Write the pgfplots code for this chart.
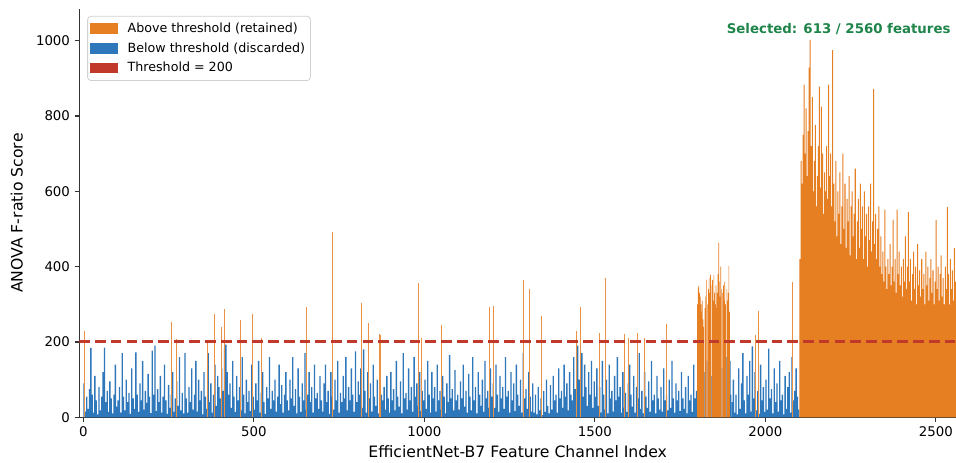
\documentclass[border=0pt]{standalone}
\usepackage{fontspec}
\setmainfont{DejaVu Sans}
\usepackage{pgfplots}
\usepackage{pgfplotstable}
\pgfplotsset{compat=1.18}
\usetikzlibrary{calc}
\definecolor{orangeC}{HTML}{E67E22}
\definecolor{blueC}{HTML}{2E77BB}
\definecolor{redC}{HTML}{C0392B}
\definecolor{greenC}{HTML}{1E8449}
\definecolor{spine}{HTML}{333333}
\pgfplotstableread[row sep=\\, header=false]{
300\\345\\350\\330\\320\\300\\280\\310\\260\\240\\120\\290\\320\\365\\150\\300\\340\\370\\330\\378\\
350\\110\\365\\310\\378\\330\\300\\350\\290\\330\\380\\464\\360\\320\\400\\340\\130\\330\\350\\310\\
360\\300\\160\\340\\310\\330\\402\\280\\150\\60\\
}\segB
\begin{document}
\begin{tikzpicture}
\begin{axis}[
  scale only axis, width=657.5pt, height=306.2pt,
  xmin=-11.7, xmax=2559, ymin=0, ymax=1084,
  axis x line*=bottom, axis y line*=left,
  axis line style={spine, line width=0.9pt, -},
  tick style={spine, line width=0.9pt},
  tick align=outside, major tick length=3.5pt,
  xtick={0,500,...,2500}, ytick={0,200,...,1000},
  minor tick num=0,
  tick label style={font=\fontsize{10}{12}\selectfont, text=black},
  /pgf/number format/assume math mode=true,
  /pgf/number format/1000 sep={},
  xlabel={EfficientNet-B7 Feature Channel Index},
  ylabel={ANOVA F-ratio Score},
  label style={font=\fontsize{11.75}{14}\selectfont},
  ylabel style={xshift=0pt, yshift=3pt},
  legend cell align=left,
  legend image code/.code={\fill[sharp corners, #1] (0pt,-4pt) rectangle (21pt,4pt);},
  legend style={at={(0.009,0.983)}, anchor=north west, draw=black!18, line width=0.6pt,
    rounded corners=2.5pt, fill=white, font=\fontsize{9.5}{11.4}\selectfont,
    inner xsep=2pt, inner ysep=3pt, row sep=2pt,
    /tikz/every odd column/.append style={column sep=5pt}},
]
\addlegendimage{fill=orangeC, draw=none}
\addlegendentry{Above threshold (retained)}
\addlegendimage{fill=blueC, draw=none}
\addlegendentry{Below threshold (discarded)}
\addlegendimage{fill=redC, draw=none}
\addlegendentry{Threshold = 200}

% Segment A: channels 0-1799, one value per 4 channels (below threshold)
\addplot[forget plot, ybar, bar width=4, bar shift=0pt, fill=blueC, draw=none]
 table[row sep=\\, header=false, x expr=\coordindex*4+2, y index=0] {
90\\15\\55\\22\\75\\184\\60\\12\\110\\45\\8\\80\\18\\55\\120\\185\\40\\70\\14\\95\\50\\10\\60\\140\\28\\
45\\80\\12\\170\\55\\18\\100\\40\\65\\9\\130\\50\\22\\172\\60\\14\\90\\45\\150\\20\\70\\38\\115\\55\\11\\
177\\60\\190\\16\\75\\40\\110\\12\\55\\140\\45\\9\\85\\25\\60\\120\\14\\50\\95\\30\\160\\18\\65\\10\\170\\
50\\12\\80\\40\\130\\20\\60\\150\\15\\100\\45\\70\\8\\120\\55\\22\\170\\40\\90\\12\\60\\140\\30\\110\\80\\
50\\130\\70\\185\\193\\120\\60\\90\\25\\150\\55\\14\\110\\45\\80\\18\\160\\60\\10\\100\\40\\70\\16\\140\\55\\
20\\90\\45\\150\\12\\65\\120\\40\\9\\80\\50\\160\\22\\70\\45\\100\\15\\55\\140\\35\\85\\12\\60\\120\\45\\
18\\100\\50\\160\\30\\75\\10\\130\\55\\14\\90\\45\\170\\20\\60\\120\\40\\80\\12\\140\\50\\65\\22\\110\\45\\
15\\90\\140\\40\\70\\9\\120\\55\\20\\100\\45\\150\\12\\65\\40\\110\\50\\160\\18\\80\\45\\130\\60\\14\\175\\
40\\95\\60\\130\\25\\180\\70\\12\\120\\50\\90\\15\\140\\55\\30\\100\\10\\160\\60\\45\\80\\20\\110\\50\\12\\
120\\45\\75\\18\\150\\55\\28\\95\\10\\170\\50\\65\\20\\130\\45\\80\\14\\160\\55\\90\\30\\120\\16\\70\\45\\
100\\22\\150\\60\\12\\120\\50\\80\\15\\140\\45\\70\\20\\110\\55\\10\\90\\40\\165\\50\\75\\18\\125\\45\\60\\
20\\95\\50\\140\\28\\70\\12\\115\\55\\18\\160\\45\\80\\10\\120\\60\\30\\100\\14\\150\\50\\70\\25\\130\\55\\
90\\25\\140\\60\\14\\110\\50\\80\\22\\160\\55\\70\\12\\120\\45\\90\\16\\140\\60\\30\\100\\12\\170\\50\\75\\
22\\120\\55\\15\\90\\12\\60\\8\\80\\18\\50\\6\\70\\14\\100\\30\\10\\85\\20\\110\\45\\60\\12\\130\\50\\
70\\25\\140\\55\\90\\18\\120\\60\\45\\160\\75\\50\\190\\100\\65\\170\\55\\140\\80\\30\\120\\60\\150\\25\\95\\
55\\130\\30\\80\\12\\150\\60\\20\\100\\10\\140\\50\\70\\15\\110\\45\\160\\55\\80\\12\\120\\25\\65\\14\\90\\
140\\60\\28\\110\\12\\80\\50\\170\\22\\70\\10\\120\\55\\25\\95\\14\\150\\45\\60\\10\\110\\50\\20\\80\\15\\
130\\45\\60\\18\\100\\25\\150\\50\\12\\90\\45\\70\\16\\120\\50\\22\\80\\10\\110\\45\\60\\14\\140\\50\\70\\
};

% Segment C: channels 1900-2099, one value per 4 channels
\addplot[forget plot, ybar, bar width=4, bar shift=0pt, fill=blueC, draw=none]
 table[row sep=\\, header=false, x expr=1900+\coordindex*4+2, y index=0] {
40\\100\\12\\60\\8\\130\\22\\90\\170\\45\\10\\110\\60\\150\\15\\188\\50\\120\\18\\70\\9\\140\\45\\80\\14\\
100\\20\\182\\50\\75\\10\\130\\40\\90\\15\\150\\45\\60\\8\\110\\22\\80\\120\\12\\160\\45\\70\\130\\55\\20\\
};

% Segment B: channels 1800-1899, one value per 2 channels (mixed)
\addplot[forget plot, ybar, bar width=2, bar shift=0pt, fill=blueC, draw=none,
  restrict y to domain=0:199.9]
 table[x expr=1800+\coordindex*2+1, y index=0] {\segB};
\addplot[forget plot, ybar, bar width=2, bar shift=0pt, fill=orangeC, draw=none,
  restrict y to domain=200:5000]
 table[x expr=1800+\coordindex*2+1, y index=0] {\segB};

% Segment D: channels 2100-2559, one value per 3 channels (all above threshold)
\addplot[forget plot, ybar, bar width=3, bar shift=0pt, fill=orangeC, draw=none]
 table[row sep=\\, header=false, x expr=2100+\coordindex*3+1.5, y index=0] {
420\\680\\620\\750\\883\\700\\820\\640\\760\\928\\
1002\\720\\850\\600\\680\\776\\560\\640\\720\\878\\
610\\825\\700\\540\\650\\600\\720\\580\\883\\640\\
700\\560\\975\\620\\520\\680\\480\\600\\540\\650\\
460\\560\\700\\500\\620\\450\\580\\520\\640\\430\\
560\\600\\480\\540\\660\\420\\520\\580\\450\\620\\
500\\560\\420\\600\\480\\540\\400\\560\\470\\620\\
440\\520\\871\\460\\540\\420\\500\\560\\400\\480\\
380\\440\\360\\551\\400\\340\\420\\380\\460\\350\\
400\\524\\360\\420\\330\\551\\380\\440\\350\\400\\
320\\420\\360\\480\\340\\400\\545\\360\\420\\310\\
380\\440\\340\\400\\300\\460\\350\\390\\320\\420\\
340\\380\\300\\440\\350\\400\\310\\370\\420\\330\\
390\\300\\360\\524\\340\\400\\310\\380\\430\\320\\
370\\300\\400\\340\\558\\380\\300\\420\\340\\390\\
310\\450\\360\\320\\
};

% isolated retained channels among the discarded ones
\addplot[forget plot, ycomb, draw=orangeC!85, line width=0.7pt, mark=none] coordinates {
(3,229) (259,253) (274,207) (364,203) (386,274) (406,239) (413,287) (461,257)
(496,273) (523,210) (653,292) (731,493) (817,303) (836,250) (867,221) (870,218)
(983,356) (992,210) (1050,245) (1191,294) (1204,296) (1290,365) (1307,341)
(1344,269) (1445,229) (1457,292) (1513,223) (1532,371) (1587,221) (1598,210)
(1626,223) (1644,210) (1709,248) (1970,219) (1981,281) (2080,358)
};

% threshold
\addplot[forget plot, redC, line width=2.3pt, dash pattern=on 8pt off 3.8pt]
 coordinates {(-11.7,200) (2559,200)};

\node[anchor=base east, font=\bfseries\fontsize{10}{12}\selectfont, text=greenC, inner sep=0pt]
 at (rel axis cs:0.994,0.9405) {Selected: 613 / 2560 features};

\coordinate (A) at (rel axis cs:0,0);
\coordinate (B) at (rel axis cs:1,1);
\end{axis}
\pgfresetboundingbox
\path ($(A)+(-59.5pt,-34.3pt)$) rectangle ($(B)+(0pt,6.75pt)$);
\end{tikzpicture}
\end{document}
